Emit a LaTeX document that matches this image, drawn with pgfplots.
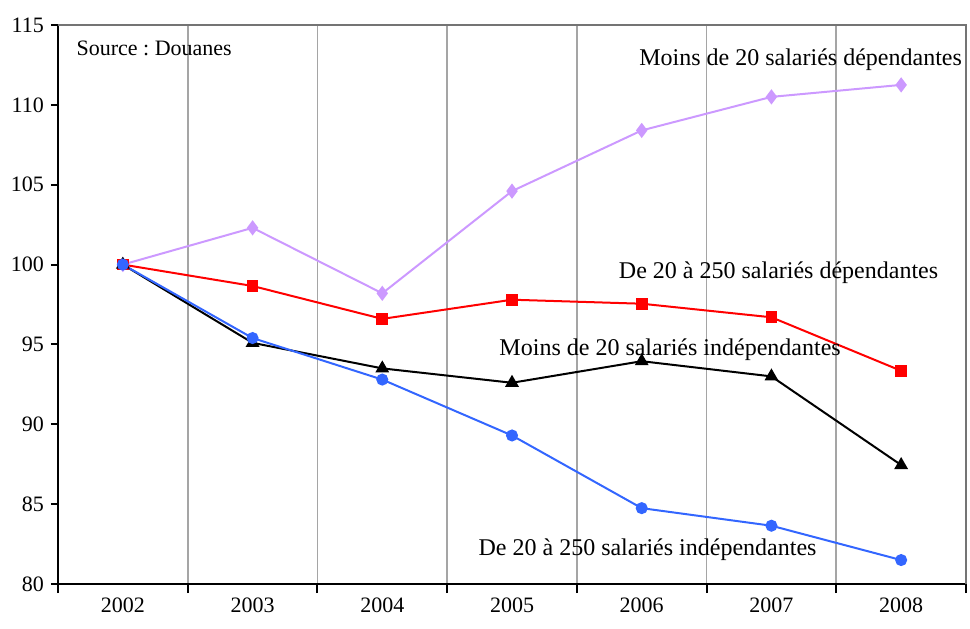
\documentclass[border=0pt]{standalone}
\usepackage{pgfplots}
\pgfplotsset{compat=1.18}
\usepackage{fontspec}
\setmainfont{Liberation Serif}
\frenchspacing
\definecolor{lav}{RGB}{204,153,255}
\definecolor{myblue}{RGB}{51,102,255}
\definecolor{gridgray}{RGB}{165,165,165}
\begin{document}
\begin{tikzpicture}
\begin{axis}[
  width=454pt, height=279.5pt, scale only axis,
  xmin=-0.5, xmax=6.5, ymin=80, ymax=115,
  axis x line*=bottom, axis y line*=left,
  axis line style={black, line width=1pt, -},
  xtick={0,...,6}, xticklabels={2002,2003,2004,2005,2006,2007,2008},
  major x tick style={draw=none},
  minor xtick={-0.5,0.5,1.5,2.5,3.5,4.5,5.5,6.5},
  xminorgrids, minor x grid style={gridgray, line width=0.8pt},
  minor tick length=4.5pt,
  major tick length=3.5pt,
  ytick={80,85,...,115},
  tick align=outside,
  tick style={black, line width=1pt},
  tick label style={font=\fontsize{11}{13}\selectfont},
  /pgf/number format/assume math mode=true,
  clip=false,
]
\draw[gridgray!70!black, line width=0.8pt] (rel axis cs:0,1) -- (rel axis cs:1,1) -- (rel axis cs:1,0);
\addplot[lav, line width=1pt, mark=diamond*, mark size=3pt] coordinates {
 (0,100) (1,102.3) (2,98.2) (3,104.6) (4,108.4) (5,110.5) (6,111.25)};
\addplot[red, line width=1pt, mark=square*, mark size=2.4pt] coordinates {
 (0,100) (1,98.66) (2,96.6) (3,97.8) (4,97.55) (5,96.7) (6,93.35)};
\addplot[black, line width=1pt, mark=triangle*, mark size=3pt] coordinates {
 (0,100) (1,95.1) (2,93.5) (3,92.6) (4,93.95) (5,93.0) (6,87.45)};
\addplot[myblue, line width=1pt, mark=*, mark size=2.5pt] coordinates {
 (0,100) (1,95.4) (2,92.8) (3,89.3) (4,84.75) (5,83.65) (6,81.5)};
\begin{scope}[every node/.style={font=\fontsize{12}{14}\selectfont, inner sep=0pt}]
\node[anchor=west, font=\fontsize{11}{13}\selectfont] at (axis cs:-0.36,113.56) {Source : Douanes};
\node at (axis cs:5.225,112.8) {Moins de 20 salariés dépendantes};
\node at (axis cs:5.055,99.47) {De 20 à 250 salariés dépendantes};
\node at (axis cs:4.219,94.65) {Moins de 20 salariés indépendantes};
\node at (axis cs:4.045,82.13) {De 20 à 250 salariés indépendantes};
\end{scope}
\end{axis}
\path ([xshift=-29pt,yshift=-22pt]current axis.south west) rectangle ([xshift=2pt,yshift=12.5pt]current axis.north east);
\end{tikzpicture}
\end{document}
